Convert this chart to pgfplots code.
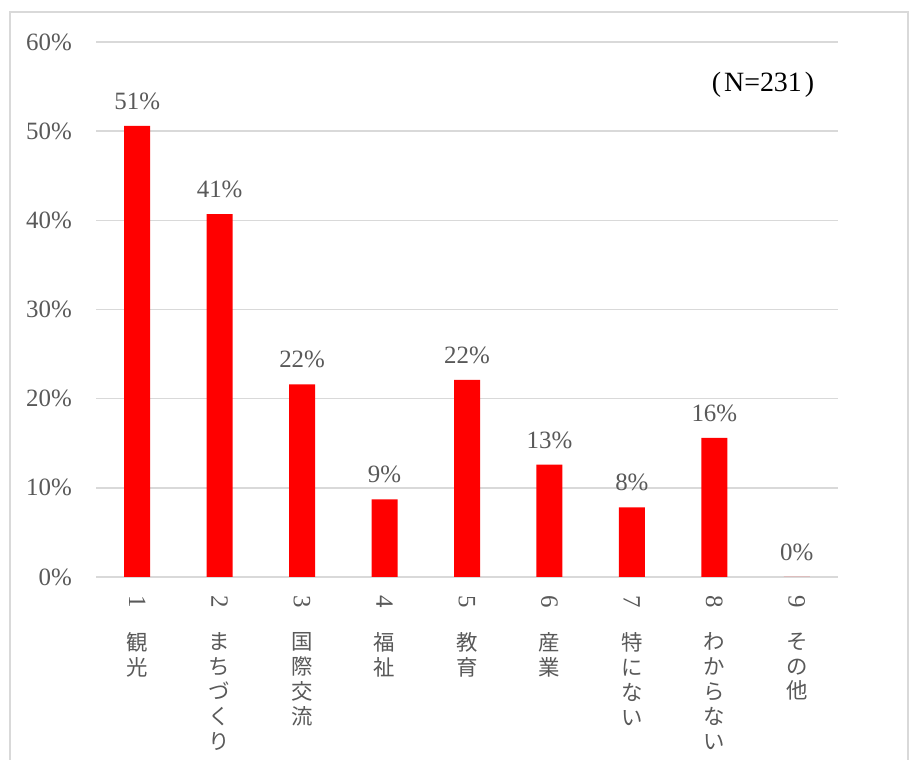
\documentclass[border=0pt]{standalone}
\usepackage{fontspec}
\usepackage{graphicx}
\usepackage{pgfplots}
\pgfplotsset{compat=1.18}
\setmainfont{Liberation Serif}
\newfontfamily\jp{Noto Sans CJK JP}
\definecolor{txtgray}{HTML}{595959}
\definecolor{gridgray}{HTML}{D9D9D9}
\newcommand{\dig}[1]{{\fontsize{25}{25}\selectfont\rotatebox{-90}{#1}}}

\begin{document}
\begin{tikzpicture}
\useasboundingbox (0,0) rectangle (910bp,760bp);
% frame of the chart area (bottom edge cut off)
\draw[gridgray, line width=1.5bp] (10bp,0) -- (10bp,748bp) -- (908bp,748bp) -- (908bp,0);

\begin{axis}[
    at={(96bp,183bp)}, anchor=south west,
    scale only axis, width=742bp, height=535bp,
    ybar, bar width=26bp,
    xmin=0.5, xmax=9.5,
    ymin=0, ymax=60,
    ytick={0,10,20,30,40,50,60},
    xtick={1,2,3,4,5,6,7,8,9},
    xticklabels={
      {\dig{1}\\[24bp]\jp 観\\\jp 光},
      {\dig{2}\\[24bp]\jp ま\\\jp ち\\\jp づ\\\jp く\\\jp り},
      {\dig{3}\\[24bp]\jp 国\\\jp 際\\\jp 交\\\jp 流},
      {\dig{4}\\[24bp]\jp 福\\\jp 祉},
      {\dig{5}\\[24bp]\jp 教\\\jp 育},
      {\dig{6}\\[24bp]\jp 産\\\jp 業},
      {\dig{7}\\[24bp]\jp 特\\\jp に\\\jp な\\\jp い},
      {\dig{8}\\[24bp]\jp わ\\\jp か\\\jp ら\\\jp な\\\jp い},
      {\dig{9}\\[24bp]\jp そ\\\jp の\\\jp 他}
    },
    xticklabel style={anchor=north, align=center, inner sep=0pt, yshift=-18bp,
      font=\fontsize{21.5}{25}\selectfont, text=txtgray},
    yticklabel={\pgfmathprintnumber{\tick}\%},
    /pgf/number format/assume math mode=true,
    yticklabel style={anchor=east, inner sep=0pt, xshift=-24bp,
      font=\fontsize{25}{29}\selectfont, text=txtgray},
    major tick length=0pt,
    axis x line*=bottom,
    axis y line*=left,
    x axis line style={gridgray, line width=1.5bp, -},
    y axis line style={draw=none},
    ymajorgrids,
    major grid style={gridgray, line width=1.5bp},
    nodes near coords={\pgfmathprintnumber[fixed,precision=0]{\pgfplotspointmeta}\%},
    nodes near coords style={anchor=south, inner sep=0pt, yshift=16bp,
      font=\fontsize{25}{29}\selectfont, text=txtgray},
    clip=false,
]
\addplot[fill=red, draw=none] coordinates {
    (1,50.6) (2,40.7) (3,21.6) (4,8.7) (5,22.1)
    (6,12.6) (7,7.8) (8,15.6) (9,0)
};
\end{axis}

\node[font=\fontsize{28}{32}\selectfont, text=black] at (763bp,675bp) {(\kern3bp N=231\kern3bp)};
\end{tikzpicture}
\end{document}
